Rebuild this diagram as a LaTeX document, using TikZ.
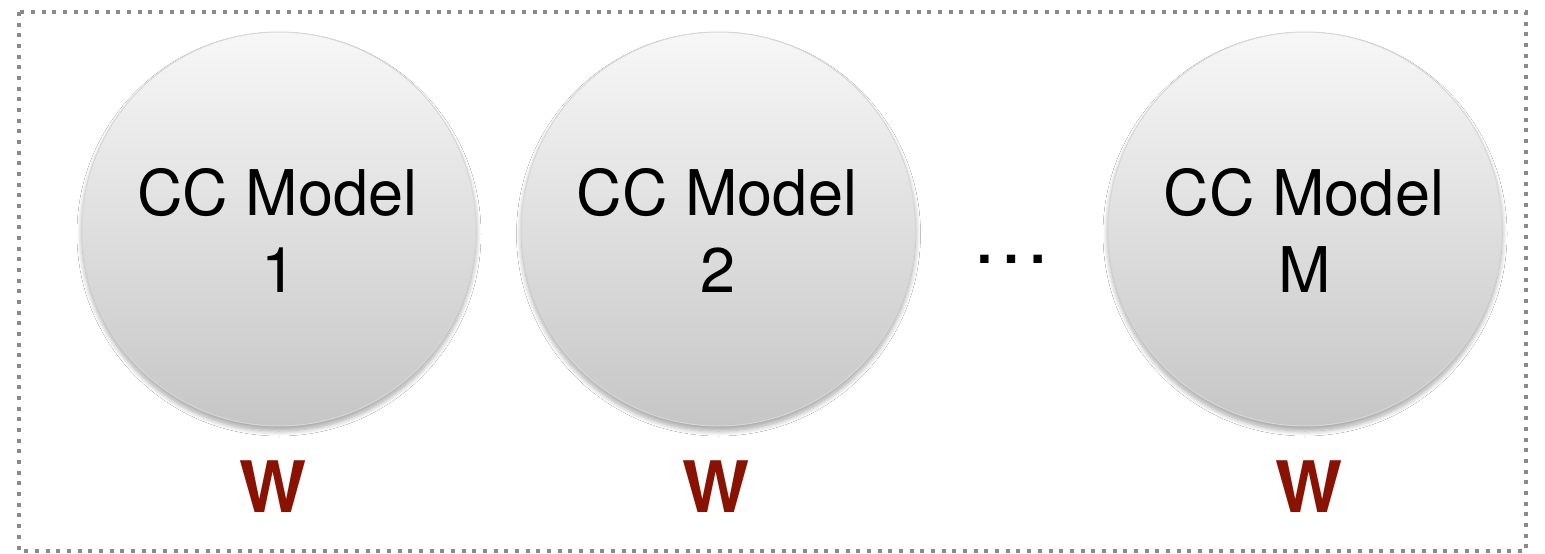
\documentclass[tikz,border=0pt]{standalone}
\usepackage{fontspec}
\setmainfont{TeX Gyre Heros}
\usetikzlibrary{shadows.blur}
\definecolor{framegray}{RGB}{138,138,138}
\definecolor{wred}{RGB}{138,18,2}
\definecolor{balltop}{RGB}{247,247,247}
\definecolor{ballbottom}{RGB}{198,198,198}
\definecolor{ballrim}{RGB}{215,215,215}
\tikzset{
  frame/.style={draw=framegray, line width=4pt, dash pattern=on 4pt off 6.67pt},
  ball/.style={circle, inner sep=0pt, minimum size=394pt,
    top color=balltop, bottom color=ballbottom, draw=ballrim, line width=1pt,
    blur shadow={shadow xshift=0pt, shadow yshift=-5pt, shadow blur radius=5pt,
      shadow blur steps=10, shadow opacity=35}},
  label/.style={anchor=base, inner sep=0pt, font=\fontsize{63}{63}\selectfont},
  weight/.style={anchor=base, inner sep=0pt, text=wred, font=\fontsize{71}{71}\selectfont\bfseries},
  ellip/.style={anchor=base, inner sep=0pt, font=\fontsize{80}{80}\selectfont}
}
\begin{document}
\begin{tikzpicture}[x=1pt, y=-1pt]
  \useasboundingbox (0,0) rectangle (1545,554);
  \fill[white] (0,0) rectangle (1545,554);
  % dotted outer frame
  \draw[frame] (19,12) rectangle (1526,551);
  % the models
  \node[ball] (m1) at (279,229) {};
  \node[ball] (m2) at (718.5,229) {};
  \node[ball] (m3) at (1305,229) {};
  \node[label] (m1a) at (277.5,215) {CC Model};
  \node[label] (m1b) at (279,292) {1};
  \node[label] (m2a) at (717,215) {CC Model};
  \node[label] (m2b) at (718,292) {2};
  \node[label] (m3a) at (1304,215) {CC Model};
  \node[label] (m3b) at (1305,292) {M};
  \node[ellip] (dots) at (1011,263) {…};
  % weights under each model
  \node[weight] (w1) at (273,512) {W};
  \node[weight] (w2) at (716.5,512) {W};
  \node[weight] (w3) at (1309,512) {W};
\end{tikzpicture}
\end{document}
